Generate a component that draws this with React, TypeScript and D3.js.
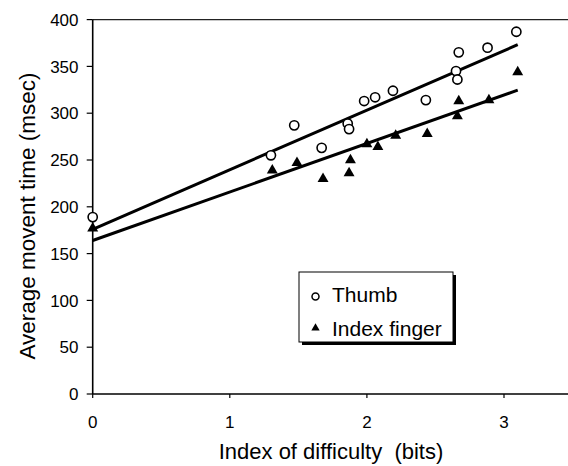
import React from "react";
import * as d3 from "d3";

const thumbX = [0, 1.3, 1.47, 1.67, 1.86, 1.87, 1.98, 2.06, 2.19, 2.43, 2.65, 2.66, 2.67, 2.88, 3.09];
const thumbY = [189, 255, 287, 263, 289, 283, 313, 317, 324, 314, 345, 336, 365, 370, 387];

const indexX = [0, 1.31, 1.49, 1.68, 1.87, 1.88, 2.0, 2.08, 2.21, 2.44, 2.66, 2.67, 2.89, 3.1];
const indexY = [177, 239, 247, 230, 236, 250, 267, 264, 276, 278, 297, 313, 314, 344];

const fitNames = ["Thumb", "Index finger"];
const fitIntercepts = [176, 164];
const fitSlopes = [63.6, 51.8];
const fitRange = [0, 3.1];

const xTicks = [0, 1, 2, 3];
const yTicks = [0, 50, 100, 150, 200, 250, 300, 350, 400];

const W = 568;
const H = 466;
const FONT = "'Liberation Sans', Arial, Helvetica, sans-serif";

export default function App() {
  const x = d3.scaleLinear().domain([0, 3.5]).range([92.7, 92.7 + 3.5 * 137.1]);
  const y = d3.scaleLinear().domain([0, 400]).range([394, 19.6]);

  const tri = d3.symbol().type(d3.symbolTriangle).size(52)() as string;
  const triLegend = d3.symbol().type(d3.symbolTriangle).size(30)() as string;

  const fits = fitIntercepts.map((b, i) => {
    const pts: [number, number][] = fitRange.map((xv) => [x(xv), y(b + fitSlopes[i] * xv)]);
    return d3.line()(pts) as string;
  });

  const x0 = x(0);
  const y0 = y(0);
  const xr = W;

  return (
    <svg
      width={W}
      height={H}
      style={{ position: "absolute", left: 0, top: 0, background: "#fff" }}
      fontFamily={FONT}
    >
      {/* frame */}
      <line x1={x0} y1={y(400)} x2={xr} y2={y(400)} stroke="#222" strokeWidth={1.2} />
      <line x1={x0} y1={y(400)} x2={x0} y2={y0} stroke="#000" strokeWidth={1.6} />
      <line x1={x0} y1={y0} x2={xr} y2={y0} stroke="#000" strokeWidth={1.6} />

      {/* y ticks */}
      {yTicks.map((t) => (
        <g key={"y" + t}>
          <line x1={x0 - 6} x2={x0} y1={y(t)} y2={y(t)} stroke="#000" strokeWidth={1.2} />
          <text x={78.5} y={y(t)} dy="0.36em" textAnchor="end" fontSize={17}>
            {t}
          </text>
        </g>
      ))}

      {/* x ticks */}
      {xTicks.map((t) => (
        <g key={"x" + t}>
          <line x1={x(t)} x2={x(t)} y1={y0} y2={y0 + 4} stroke="#000" strokeWidth={1.2} />
          <text x={x(t)} y={427.5} textAnchor="middle" fontSize={17}>
            {t}
          </text>
        </g>
      ))}

      {/* axis titles */}
      <text x={331} y={459} textAnchor="middle" fontSize={22} style={{ whiteSpace: "pre" }}>
        Index of difficulty  (bits)
      </text>
      <text
        transform={`translate(35,${216}) rotate(-90)`}
        textAnchor="middle"
        fontSize={22.5}
        style={{ whiteSpace: "pre" }}
      >
        Average movent time (msec)
      </text>

      {/* fit lines */}
      {fits.map((d, i) => (
        <path key={fitNames[i]} d={d} fill="none" stroke="#000" strokeWidth={3} />
      ))}

      {/* thumb points */}
      {thumbX.map((v, i) => (
        <circle
          key={"t" + i}
          cx={x(v)}
          cy={y(thumbY[i])}
          r={4.6}
          fill="#fff"
          stroke="#000"
          strokeWidth={1.6}
        />
      ))}

      {/* index points */}
      {indexX.map((v, i) => (
        <path key={"i" + i} d={tri} transform={`translate(${x(v)},${y(indexY[i])})`} fill="#000" />
      ))}

      {/* legend */}
      <g>
        <rect x={302} y={275} width={154} height={70} fill="#000" />
        <rect x={299} y={272} width={154} height={70} fill="#fff" stroke="#000" strokeWidth={1} />
        <circle cx={315.5} cy={296.5} r={3.5} fill="#fff" stroke="#000" strokeWidth={1.5} />
        <text x={332} y={302} fontSize={21}>
          {fitNames[0]}
        </text>
        <path d={triLegend} transform="translate(315.5,328)" fill="#000" />
        <text x={332} y={335.5} fontSize={21}>
          {fitNames[1]}
        </text>
      </g>
    </svg>
  );
}
